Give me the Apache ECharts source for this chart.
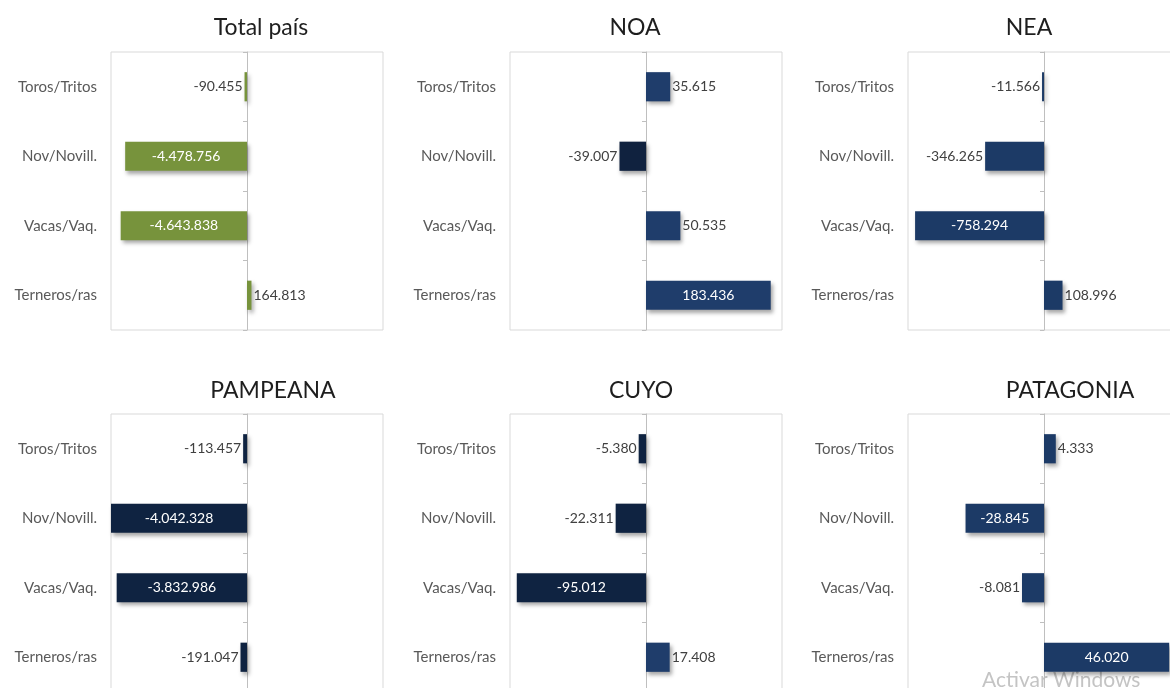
<!DOCTYPE html>
<html>
<head>
<meta charset="utf-8">
<script src="https://cdn.jsdelivr.net/npm/echarts@6/dist/echarts.min.js"></script>
<style>
html,body{margin:0;padding:0;background:#fff;overflow:hidden;}
#chart{width:1200px;height:700px;}
</style>
</head>
<body>
<div id="chart"></div>
<script>
// ---- data ----
const categories = ['Toros/Tritos', 'Nov/Novill.', 'Vacas/Vaq.', 'Terneros/ras'];
const panelTitles = ['Total país', 'NOA', 'NEA', 'PAMPEANA', 'CUYO', 'PATAGONIA'];
const totalPais = [-90455, -4478756, -4643838, 164813];
const noa = [35615, -39007, 50535, 183436];
const nea = [-11566, -346265, -758294, 108996];
const pampeana = [-113457, -4042328, -3832986, -191047];
const cuyo = [-5380, -22311, -95012, 17408];
const patagonia = [4333, -28845, -8081, 46020];
const axisLimits = [5000000, 200000, 800000, 4000000, 100000, 50000];

// ---- styles / layout ----
const seriesValues = [totalPais, noa, nea, pampeana, cuyo, patagonia];
const posColors = ['#77933C', '#1F3D6B', '#1C3A66', '#1F3D6B', '#1F3D6B', '#1C3A66'];
const negColors = ['#77933C', '#10223F', '#1C3A66', '#0F2341', '#0F2341', '#1C3A66'];
const gridLefts = [111, 510, 908];
const gridTops = [52, 414];
const gridW = 272, gridH = 278;
const titleX = [256, 630, 1024, 268, 636, 1065];
const titleY = [11, 11, 11, 374, 374, 374];
const FONT = 'Lato, "Open Sans", sans-serif';

function fmt(v) {
  const s = Math.abs(v).toString().replace(/\B(?=(\d{3})+(?!\d))/g, '.');
  return (v < 0 ? '-' : '') + s;
}

const option = {
  animation: false,
  backgroundColor: '#ffffff',
  title: [], grid: [], xAxis: [], yAxis: [], series: [],
  graphic: [{
    type: 'text', left: 982, top: 670, silent: true,
    style: { text: 'Activar Windows', fill: '#c4c4c4', fontSize: 21, fontFamily: FONT }
  }]
};

for (let i = 0; i < 6; i++) {
  const col = i % 3, row = Math.floor(i / 3);
  const lim = axisLimits[i];
  option.title.push({
    text: panelTitles[i], left: titleX[i], top: titleY[i], textAlign: 'center',
    textStyle: { fontFamily: FONT, fontSize: 23, fontWeight: 'normal', color: '#1e1e1e' }
  });
  option.grid.push({
    left: gridLefts[col], top: gridTops[row], width: gridW, height: gridH,
    show: true, borderColor: '#d9d9d9', borderWidth: 1, backgroundColor: 'transparent'
  });
  option.xAxis.push({
    type: 'value', gridIndex: i, min: -lim, max: lim,
    axisLabel: { show: false }, axisLine: { show: false }, axisTick: { show: false },
    splitLine: { show: false }
  });
  // labels axis
  option.yAxis.push({
    type: 'category', gridIndex: i, data: categories, inverse: true, position: 'left',
    axisLine: { show: false, onZero: false }, axisTick: { show: false },
    axisLabel: { margin: 14, fontFamily: FONT, fontSize: 15, color: '#595959' }
  });
  // zero line axis with ticks
  option.yAxis.push({
    type: 'category', gridIndex: i, data: categories, inverse: true, position: 'left',
    axisLine: { show: true, onZero: true, lineStyle: { color: '#bfbfbf', width: 1 } },
    axisTick: { show: true, length: 4, lineStyle: { color: '#bfbfbf' } },
    axisLabel: { show: false }
  });
  const vals = seriesValues[i];
  option.series.push({
    type: 'bar', xAxisIndex: i, yAxisIndex: 2 * i,
    barCategoryGap: '58%',
    data: vals.map(v => {
      const inside = Math.abs(v) / lim > 0.5;
      return {
        value: v,
        itemStyle: {
          color: v < 0 ? negColors[i] : posColors[i],
          shadowColor: 'rgba(0,0,0,0.35)', shadowBlur: 4, shadowOffsetX: 2, shadowOffsetY: 3
        },
        label: {
          show: true,
          position: inside ? 'inside' : (v < 0 ? 'left' : 'right'),
          distance: 2,
          color: inside ? '#ffffff' : '#404040',
          fontFamily: FONT, fontSize: 14,
          formatter: () => fmt(v)
        }
      };
    })
  });
}

const chart = echarts.init(document.getElementById('chart'));
chart.setOption(option);
</script>
</body>
</html>
